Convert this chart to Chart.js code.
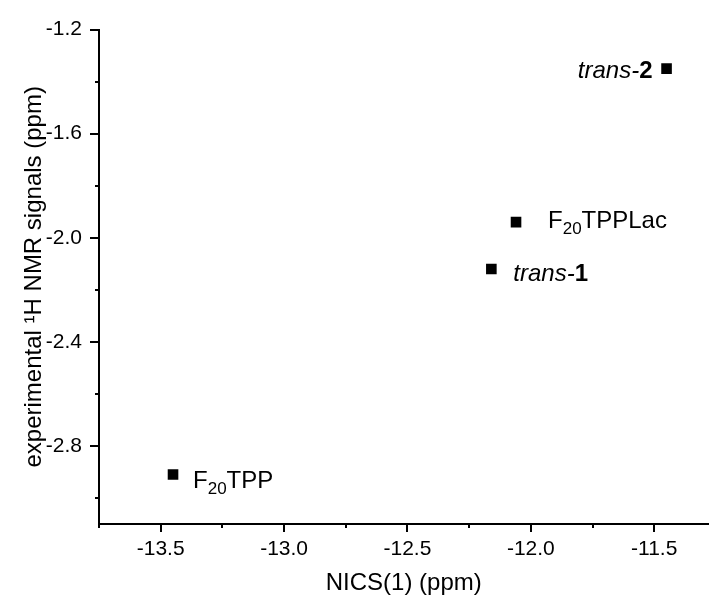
<!DOCTYPE html>
<html>
<head>
<meta charset="utf-8">
<script src="https://cdn.jsdelivr.net/npm/chart.js@4.4.0/dist/chart.umd.min.js"></script>
<style>
  html, body { margin: 0; padding: 0; background: #fff; }
  #contenedor { width: 716px; height: 602px; }
</style>
</head>
<body>
<div id="contenedor"><canvas id="grafico"></canvas></div>
<script>
/* DATOS */
const compuestos = ['F20TPP', 'trans-1', 'F20TPPLac', 'trans-2'];
const nics = [-13.45, -12.16, -12.06, -11.45];
const rmn = [-2.91, -2.12, -1.94, -1.35];

const xMayores = [-13.5, -13.0, -12.5, -12.0, -11.5];
const xMenores = [-13.25, -12.75, -12.25, -11.75];
const yMayores = [-1.2, -1.6, -2.0, -2.4, -2.8];
const yMenores = [-1.4, -1.8, -2.2, -2.6, -3.0];

const fuente = '"Liberation Sans", Arial, sans-serif';

// trozos de texto de cada etiqueta: n normal, sub subindice, i cursiva, b negrita
const trozos = {
  'F20TPP': [['F', 'n'], ['20', 'sub'], ['TPP', 'n']],
  'trans-1': [['trans-', 'i'], ['1', 'b']],
  'F20TPPLac': [['F', 'n'], ['20', 'sub'], ['TPPLac', 'n']],
  'trans-2': [['trans-', 'i'], ['2', 'b']]
};
// desplazamiento de la etiqueta respecto al punto
const desplaz = {
  'F20TPP': { dx: 20, dy: 13, lado: 'izq' },
  'trans-1': { dx: 22, dy: 12, lado: 'izq' },
  'F20TPPLac': { dx: 32, dy: 6, lado: 'izq' },
  'trans-2': { dx: -14, dy: 9, lado: 'der' }
};

function fuenteTrozo(tipo) {
  if (tipo === 'sub') return '17px ' + fuente;
  if (tipo === 'i') return 'italic 24px ' + fuente;
  if (tipo === 'b') return 'bold 24px ' + fuente;
  return '24px ' + fuente;
}

/* etiquetas de los puntos */
const etiquetas = {
  id: 'etiquetas',
  afterDatasetsDraw(chart) {
    const ctx = chart.ctx;
    const meta = chart.getDatasetMeta(0);
    ctx.save();
    ctx.fillStyle = '#000';
    ctx.textBaseline = 'alphabetic';
    ctx.textAlign = 'left';
    compuestos.forEach((nombre, i) => {
      const p = meta.data[i];
      const partes = trozos[nombre];
      const d = desplaz[nombre];
      let ancho = 0;
      partes.forEach(([t, tipo]) => { ctx.font = fuenteTrozo(tipo); ancho += ctx.measureText(t).width; });
      let x = d.lado === 'der' ? p.x + d.dx - ancho : p.x + d.dx;
      const y = p.y + d.dy;
      partes.forEach(([t, tipo]) => {
        ctx.font = fuenteTrozo(tipo);
        ctx.fillText(t, x, tipo === 'sub' ? y + 6 : y);
        x += ctx.measureText(t).width;
      });
    });
    ctx.restore();
  }
};

/* marcas de los ejes (mayores y menores) */
const marcas = {
  id: 'marcas',
  afterDraw(chart) {
    const ctx = chart.ctx;
    const xs = chart.scales.x, ys = chart.scales.y;
    const area = chart.chartArea;
    ctx.save();
    ctx.strokeStyle = '#000';
    ctx.lineWidth = 2;
    ctx.beginPath();
    xMayores.forEach(v => { const px = Math.round(xs.getPixelForValue(v)); ctx.moveTo(px, area.bottom); ctx.lineTo(px, area.bottom + 8); });
    xMenores.forEach(v => { const px = Math.round(xs.getPixelForValue(v)); ctx.moveTo(px, area.bottom); ctx.lineTo(px, area.bottom + 4); });
    yMayores.forEach(v => { const py = Math.round(ys.getPixelForValue(v)); ctx.moveTo(area.left, py); ctx.lineTo(area.left - 9, py); });
    yMenores.forEach(v => { const py = Math.round(ys.getPixelForValue(v)); ctx.moveTo(area.left, py); ctx.lineTo(area.left - 4, py); });
    // el eje y baja un poco bajo el eje x
    ctx.moveTo(area.left, area.bottom);
    ctx.lineTo(area.left, area.bottom + 4);
    ctx.stroke();
    ctx.restore();
  }
};

const ctx = document.getElementById('grafico').getContext('2d');

const datos = {
  datasets: [{
    data: nics.map((x, i) => ({ x: x, y: rmn[i] })),
    pointStyle: 'rect',
    pointRadius: 7.5,
    pointHoverRadius: 7.5,
    backgroundColor: '#000',
    borderWidth: 0
  }]
};

const opciones = {
  responsive: true,
  maintainAspectRatio: false,
  animation: false,
  layout: { padding: { top: 22, right: 0, bottom: 0, left: 0 } },
  plugins: {
    legend: { display: false },
    tooltip: { enabled: false }
  },
  scales: {
    x: {
      type: 'linear',
      min: -13.75,
      max: -11.28,
      grid: { display: false, drawTicks: false },
      border: { display: true, color: '#000', width: 2 },
      afterBuildTicks: s => { s.ticks = xMayores.map(v => ({ value: v })); },
      afterFit: s => { s.height = 78; },
      ticks: {
        color: '#000',
        font: { family: fuente, size: 21 },
        padding: 13,
        autoSkip: false,
        maxRotation: 0,
        callback: v => v.toFixed(1)
      },
      title: {
        display: true,
        text: 'NICS(1) (ppm)',
        color: '#000',
        font: { family: fuente, size: 24 },
        padding: { top: 0, bottom: 4 }
      }
    },
    y: {
      type: 'linear',
      min: -3.1,
      max: -1.2,
      grid: { display: false, drawTicks: false },
      border: { display: true, color: '#000', width: 2 },
      afterBuildTicks: s => { s.ticks = yMayores.map(v => ({ value: v })); },
      afterFit: s => { s.width = 99; },
      ticks: {
        color: '#000',
        font: { family: fuente, size: 21 },
        padding: 17,
        autoSkip: false,
        callback: v => v.toFixed(1)
      },
      title: {
        display: true,
        text: 'experimental \u00B9H NMR signals (ppm)',
        color: '#000',
        font: { family: fuente, size: 24 },
        padding: { top: 20, bottom: 0 }
      }
    }
  }
};

const miGrafico = new Chart(ctx, {
  type: 'scatter',
  data: datos,
  options: opciones,
  plugins: [etiquetas, marcas]
});
</script>
</body>
</html>
